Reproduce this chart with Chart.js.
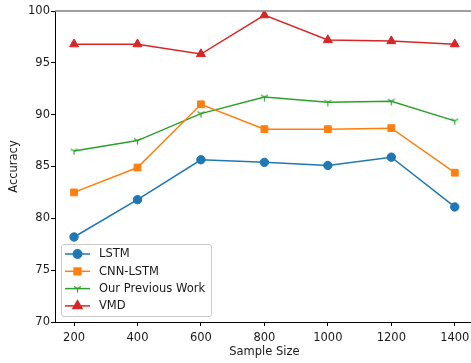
<!DOCTYPE html>
<html lang="en">
<head>
    <meta charset="UTF-8">
    <title>Accuracy vs Sample Size</title>
    <script src="https://cdn.jsdelivr.net/npm/chart.js"></script>
    <style>
        html, body { margin: 0; padding: 0; background: #fff; overflow: hidden; }
        #wrap { width: 471px; height: 363px; overflow: hidden; }
    </style>
</head>
<body>
    <div id="wrap">
        <canvas id="accChart" width="480" height="363"></canvas>
    </div>

    <script>
        // data
        const sampleSizes = [200, 400, 600, 800, 1000, 1200, 1400];
        const xTicks = [200, 400, 600, 800, 1000, 1200, 1400];
        const yTicks = [70, 75, 80, 85, 90, 95, 100];
        const lstm = [78.2, 81.8, 85.65, 85.4, 85.1, 85.9, 81.1];
        const cnnLstm = [82.5, 84.9, 91.0, 88.6, 88.6, 88.7, 84.4];
        const previousWork = [86.5, 87.5, 90.1, 91.7, 91.2, 91.3, 89.4];
        const vmd = [96.8, 96.8, 95.85, 99.6, 97.2, 97.1, 96.8];

        const FONT = 'DejaVu Sans';

        // matplotlib "tri_down" marker
        function triDown(color, size) {
            const c = document.createElement('canvas');
            c.width = size; c.height = size;
            const g = c.getContext('2d');
            const m = size / 2, r = size / 2 - 0.5;
            g.strokeStyle = color;
            g.lineWidth = 1.2;
            g.beginPath();
            g.moveTo(m, m); g.lineTo(m, m + r);
            g.moveTo(m, m); g.lineTo(m - r * 0.866, m - r * 0.5);
            g.moveTo(m, m); g.lineTo(m + r * 0.866, m - r * 0.5);
            g.stroke();
            return c;
        }

        const toPoints = arr => arr.map((v, i) => ({ x: sampleSizes[i], y: v }));

        const series = [
            { label: 'LSTM', data: lstm, color: '#1f77b4', style: 'circle', radius: 4.2 },
            { label: 'CNN-LSTM', data: cnnLstm, color: '#ff7f0e', style: 'rect', radius: 4.8 },
            { label: 'Our Previous Work', data: previousWork, color: '#2ca02c', style: triDown('#2ca02c', 9), radius: 4 },
            { label: 'VMD', data: vmd, color: '#d62728', style: 'triangle', radius: 5.2 }
        ];

        // legend drawn inside the plot, lower left
        const innerLegend = {
            id: 'innerLegend',
            afterDraw(chart) {
                const ctx = chart.ctx;
                const x0 = 61.5, y0 = 244.5, w = 150, h = 72;
                ctx.save();
                ctx.beginPath();
                ctx.roundRect(x0, y0, w, h, 2.5);
                ctx.fillStyle = 'rgba(255,255,255,0.8)';
                ctx.fill();
                ctx.strokeStyle = '#cccccc';
                ctx.lineWidth = 1;
                ctx.stroke();
                chart.data.datasets.forEach((ds, i) => {
                    const y = 254 + i * 17.3;
                    ctx.strokeStyle = ds.borderColor;
                    ctx.lineWidth = 1.5;
                    ctx.beginPath();
                    ctx.moveTo(65, y); ctx.lineTo(90, y);
                    ctx.stroke();
                    ctx.fillStyle = ds.backgroundColor;
                    ctx.strokeStyle = ds.borderColor;
                    Chart.helpers.drawPoint(ctx, {
                        pointStyle: ds.pointStyle, rotation: 0,
                        radius: ds.pointRadius, borderWidth: 1
                    }, 77.5, y);
                    ctx.fillStyle = '#1a1a1a';
                    ctx.font = '11.5px "' + FONT + '"';
                    ctx.textBaseline = 'middle';
                    ctx.fillText(ds.label, 99, y + 0.5);
                });
                // top spine
                const a = chart.chartArea;
                ctx.strokeStyle = '#808080';
                ctx.lineWidth = 1.5;
                ctx.beginPath();
                ctx.moveTo(a.left, a.top);
                ctx.lineTo(a.right, a.top);
                ctx.stroke();
                ctx.restore();
            }
        };

        new Chart(document.getElementById('accChart'), {
            type: 'line',
            data: {
                datasets: series.map(s => ({
                    label: s.label,
                    data: toPoints(s.data),
                    borderColor: s.color,
                    backgroundColor: s.color,
                    borderWidth: 1.5,
                    pointStyle: s.style,
                    pointRadius: s.radius,
                    pointHoverRadius: s.radius,
                    pointBorderWidth: 1,
                    tension: 0
                }))
            },
            options: {
                responsive: false,
                animation: false,
                layout: { padding: { top: 11, right: 6, bottom: 0, left: 0 } },
                plugins: {
                    legend: { display: false },
                    tooltip: { enabled: false }
                },
                scales: {
                    x: {
                        type: 'linear',
                        min: 140,
                        max: 1460,
                        afterBuildTicks: scale => { scale.ticks = xTicks.map(v => ({ value: v })); },
                        afterFit: scale => { scale.height = 41; },
                        grid: { drawOnChartArea: false, drawTicks: true, tickLength: 4, color: '#000' },
                        border: { color: '#000', width: 1 },
                        ticks: {
                            color: '#1a1a1a', padding: 5, maxRotation: 0,
                            callback: v => String(v),
                            font: { family: FONT, size: 11.5 }
                        },
                        title: { display: true, text: 'Sample Size', color: '#1a1a1a', padding: { top: 0, bottom: 4 }, font: { family: FONT, size: 11.5 } }
                    },
                    y: {
                        min: 70,
                        max: 100,
                        afterBuildTicks: scale => { scale.ticks = yTicks.map(v => ({ value: v })); },
                        afterFit: scale => { scale.width = 55; },
                        grid: { drawOnChartArea: false, drawTicks: true, tickLength: 4, color: '#000' },
                        border: { color: '#000', width: 1 },
                        ticks: { color: '#1a1a1a', padding: 1, callback: v => String(v), font: { family: FONT, size: 11.5 } },
                        title: { display: true, text: 'Accuracy', color: '#1a1a1a', padding: { top: 7, bottom: 0 }, font: { family: FONT, size: 11.5 } }
                    }
                }
            },
            plugins: [innerLegend]
        });
    </script>
</body>
</html>
